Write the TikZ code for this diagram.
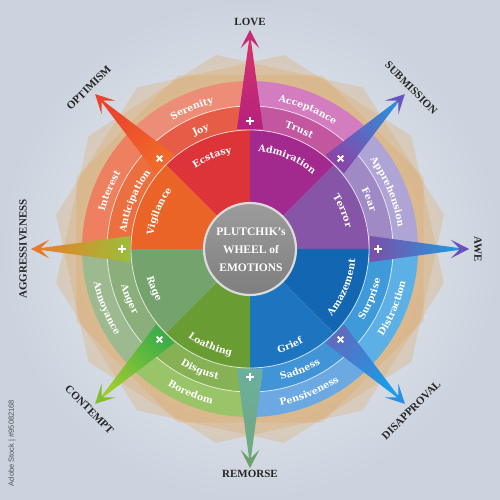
\documentclass[tikz,border=0pt]{standalone}
\usepackage{fontspec}
\setmainfont{Liberation Serif}
\newfontfamily\ringfam{DejaVu Serif}
\newfontfamily\idfam{Liberation Sans}
\usetikzlibrary{decorations.text}
\definecolor{bgin}{HTML}{F0F2F6}
\definecolor{bgout}{HTML}{CBD3DE}
\definecolor{tanc}{HTML}{DDAA6A}
\definecolor{labelc}{HTML}{262626}
\definecolor{hubtop}{HTML}{9C9C9C}
\definecolor{hubbot}{HTML}{7E7E7E}
\definecolor{hubline}{HTML}{DADADA}
\newcommand\ringtxt{\ringfam\bfseries\fontsize{9.5pt}{11pt}\selectfont}
\newcommand\toptext[3]{%
  \path[decorate,decoration={text along path,text={|\ringtxt|#3},text align=center,text color=white}]
    (#1+30:#2) arc[start angle=#1+30,end angle=#1-30,radius=#2];}
\newcommand\bottext[3]{%
  \path[decorate,decoration={text along path,text={|\ringtxt|#3},text align=center,text color=white}]
    (#1-30:#2) arc[start angle=#1-30,end angle=#1+30,radius=#2];}
\tikzset{
  outerlabel/.style={font=\bfseries\fontsize{11pt}{13pt}\selectfont,text=labelc,inner sep=0pt},
  marker/.style={white,line width=1.8pt},
  sepline/.style={white,opacity=0.7,line width=0.8pt}
}
\begin{document}
\begin{tikzpicture}[x=1pt,y=1pt]
\useasboundingbox (-250,-251) rectangle (250,249);
\shade[inner color=bgin,outer color=bgout] (-250,-251) rectangle (250,249);
% tan star
\foreach \rot/\R in {22.5/188,10/197,-10/197}{
  \fill[tanc,opacity=0.32] (\rot:\R) \foreach \k in {1,...,7}{ -- (\rot+45*\k:\R)} -- cycle;
}
% inner ring
\foreach \s/\c in {90/DC3439,45/A22A8E,0/8655A8,-45/1266B2,-90/1D75C0,-135/6A9C34,180/74A36E,135/EA6428}{
  \definecolor{tmpc}{HTML}{\c}
  \fill[tmpc] (0,0) -- (\s:119) arc[start angle=\s,end angle=\s+45,radius=119] -- cycle;
}
% middle ring
\foreach \s/\c in {90/E65C46,45/C3579F,0/9F8AC6,-45/3E9AD8,-90/4194D6,-135/87B155,180/8BAF7B,135/EC6F3F}{
  \definecolor{tmpc}{HTML}{\c}
  \fill[tmpc] (\s:119) arc[start angle=\s,end angle=\s+45,radius=119] -- (\s+45:143) arc[start angle=\s+45,end angle=\s,radius=143] -- cycle;
}
% outer ring
\foreach \s/\c in {90/EC8E77,45/D37CBF,0/AFA4D6,-45/5DB0E5,-90/6CA9E2,-135/9AC468,180/9DB98F,135/EE7F5F}{
  \definecolor{tmpc}{HTML}{\c}
  \fill[tmpc] (\s:143) arc[start angle=\s,end angle=\s+45,radius=143] -- (\s+45:168) arc[start angle=\s+45,end angle=\s,radius=168] -- cycle;
}
\draw[sepline] (0,0) circle[radius=119];
\draw[sepline] (0,0) circle[radius=143];
% spikes
\foreach \a/\cb/\ct/\ch in {90/B5207E/D83568/C92A78,45/8A45A8/2E8CDA/6A55C0,0/7D4FA8/18A0E6/6A50B8,-45/5E6CC0/169FEA/2C8EE0,-90/6AAFA0/72A87A/6C9E70,-135/3CAD48/A2CC2E/7DC030,180/9ABF3A/F07A28/E8782C,135/F26A2A/E8432C/E8452A}{
  \definecolor{basec}{HTML}{\cb}
  \definecolor{tipc}{HTML}{\ct}
  \definecolor{headc}{HTML}{\ch}
  \shade[top color=tipc,bottom color=basec,shading angle=\a-90] (\a+6.2:120.7) -- (\a:216) -- (\a-6.2:120.7) -- cycle;
  \begin{scope}[rotate=\a]
    \fill[headc] (219,0) -- (200.5,9.5) -- (208.5,1.5) -- (208.5,-1.5) -- (200.5,-9.5) -- cycle;
    \draw[marker] (124,0) -- (132,0);
    \draw[marker] (128,-4) -- (128,4);
  \end{scope}
}
% hub
\shade[top color=hubtop,bottom color=hubbot] (0,0) circle[radius=46];
\draw[hubline,line width=2.2pt] (0,0) circle[radius=46];
\node[font=\bfseries\fontsize{11.5pt}{18pt}\selectfont,text=white,align=center,inner sep=0pt] (hub) at (1,-1) {PLUTCHIK's\\WHEEL of\\EMOTIONS};
% inner ring texts
\toptext{112.5}{97.5}{Ecstasy}
\toptext{67.5}{97.5}{Admiration}
\toptext{22.5}{98}{Terror}
\bottext{-22.5}{106}{Amazement}
\bottext{-67.5}{108}{Grief}
\bottext{-112.5}{108}{Loathing}
\bottext{-157.5}{107}{Rage}
\toptext{157.5}{97.5}{Vigilance}
% middle ring texts
\toptext{112.5}{126}{Joy}
\toptext{67.5}{126}{Trust}
\toptext{22.5}{126}{Fear}
\bottext{-22.5}{134}{Surprise}
\bottext{-67.5}{134.5}{Sadness}
\bottext{-112.5}{134.5}{Disgust}
\bottext{-157.5}{134}{Anger}
\toptext{157.5}{125}{Anticipation}
% outer ring texts
\toptext{112.5}{150}{Serenity}
\toptext{67.5}{150}{Acceptance}
\toptext{22.5}{149.5}{Apprehension}
\bottext{-22.5}{159}{Distraction}
\bottext{-67.5}{159.5}{Pensiveness}
\bottext{-112.5}{159.5}{Boredom}
\bottext{-157.5}{160}{Annoyance}
\toptext{157.5}{150}{Interest}
% outer labels
\node[outerlabel] (love) at (90:227) {LOVE};
\node[outerlabel,rotate=-45] (submission) at (45:228) {SUBMISSION};
\node[outerlabel,rotate=-90] (awe) at (0:228) {AWE};
\node[outerlabel,rotate=45] (disapproval) at (-45:228) {DISAPPROVAL};
\node[outerlabel] (remorse) at (-90:225) {REMORSE};
\node[outerlabel,rotate=-45] (contempt) at (-135:227) {CONTEMPT};
\node[outerlabel,rotate=90] (aggressiveness) at (180:227) {AGGRESSIVENESS};
\node[outerlabel,rotate=45] (optimism) at (135:228) {OPTIMISM};
\node[rotate=90,font=\idfam\fontsize{7.5pt}{9pt}\selectfont,text=labelc!80,inner sep=0pt] (stockid) at (-238,-194) {Adobe Stock | \#95082168};
\end{tikzpicture}
\end{document}
